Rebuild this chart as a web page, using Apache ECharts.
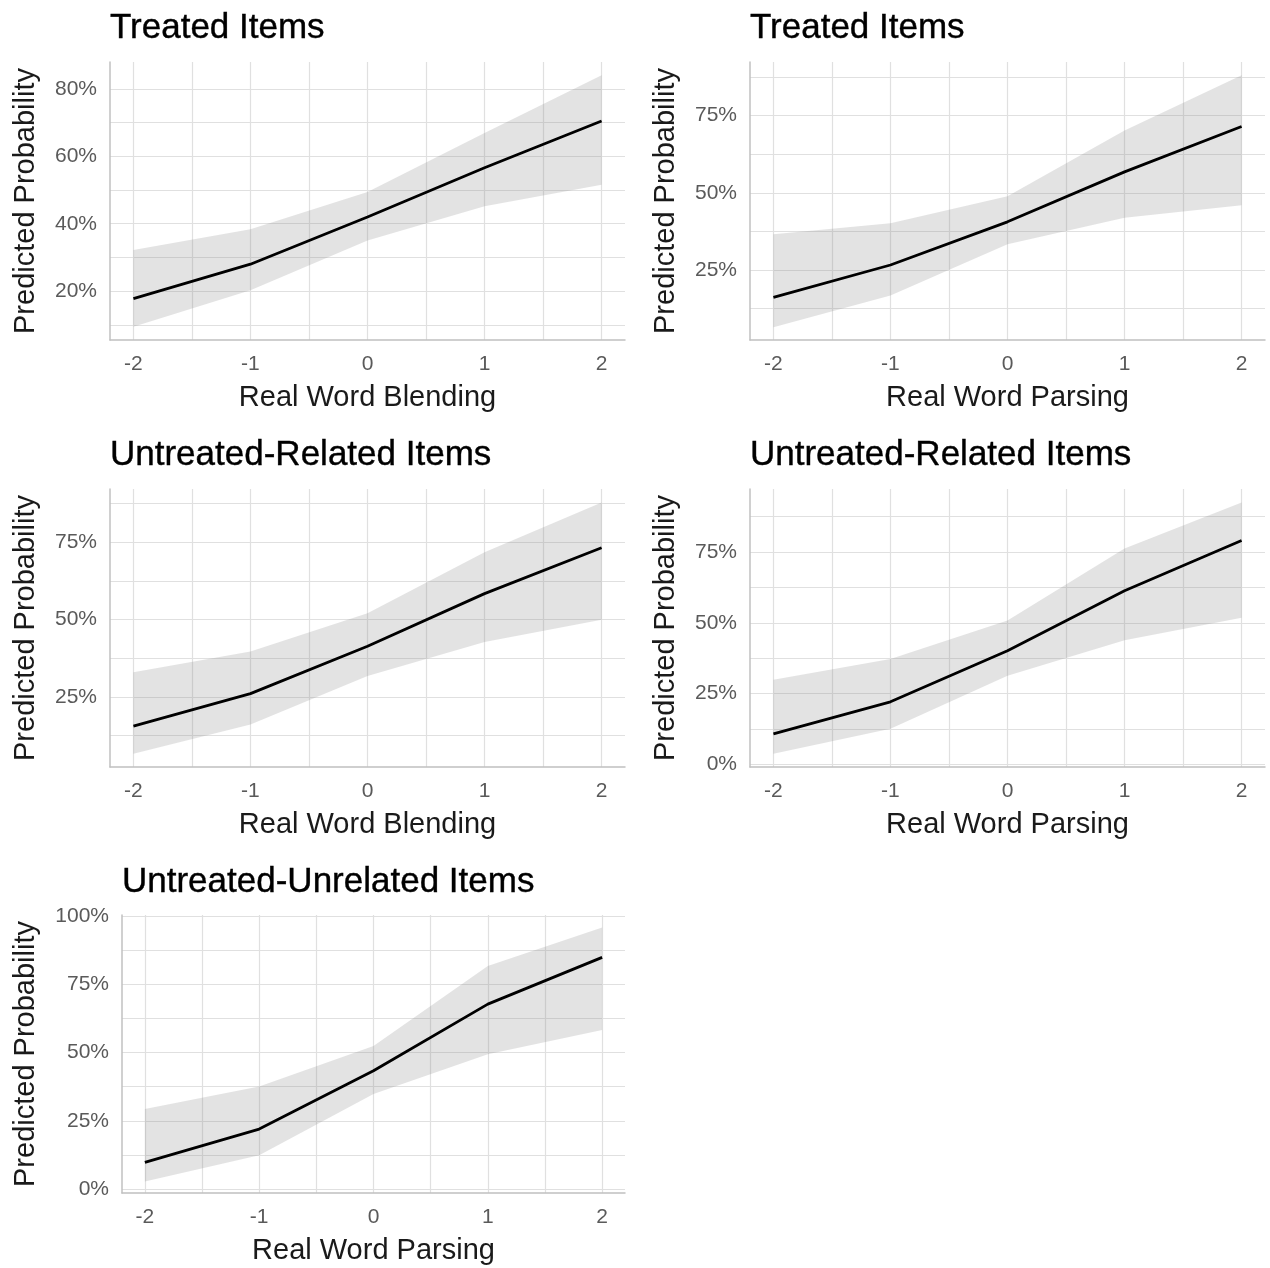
<!DOCTYPE html>
<html>
<head>
<meta charset="utf-8">
<script src="https://cdn.jsdelivr.net/npm/echarts@6/dist/echarts.min.js"></script>
<style>
html,body{margin:0;padding:0;background:#fff;}
#chart{width:1270px;height:1268px;}
</style>
</head>
<body>
<div id="chart"></div>
<script>
// ---------- DATA ----------
const xValues = [-2, -1, 0, 1, 2];
const xTickLabels = [-2, -1, 0, 1, 2];
const xMinorTicks = [-1.5, -0.5, 0.5, 1.5];

const panelTitles = ['Treated Items', 'Treated Items', 'Untreated-Related Items', 'Untreated-Related Items', 'Untreated-Unrelated Items'];
const xAxisNames = ['Real Word Blending', 'Real Word Parsing', 'Real Word Blending', 'Real Word Parsing', 'Real Word Parsing'];
const yAxisName = 'Predicted Probability';

// predicted probability (%) and confidence band (%)
const fitTreatedBlend = [17.8, 28.0, 42.0, 56.6, 70.5];
const lowTreatedBlend = [9.4, 20.3, 35.0, 45.2, 51.6];
const upTreatedBlend = [32.2, 38.4, 49.4, 66.9, 84.1];

const fitTreatedParse = [16.1, 26.6, 40.6, 56.8, 71.5];
const lowTreatedParse = [6.4, 16.7, 33.3, 41.9, 46.0];
const upTreatedParse = [36.6, 40.1, 48.9, 70.2, 88.1];

const fitRelatedBlend = [15.6, 26.1, 41.4, 58.4, 73.2];
const lowRelatedBlend = [6.7, 16.1, 31.8, 42.8, 50.0];
const upRelatedBlend = [33.0, 39.7, 52.1, 71.8, 87.8];

const fitRelatedParse = [10.8, 22.1, 40.1, 61.3, 79.0];
const lowRelatedParse = [3.8, 12.6, 31.3, 43.8, 51.8];
const upRelatedParse = [29.9, 37.2, 50.8, 76.2, 92.4];

const fitUnrelatedParse = [9.8, 22.0, 43.3, 67.7, 84.8];
const lowUnrelatedParse = [2.8, 12.4, 34.8, 49.4, 58.2];
const upUnrelatedParse = [29.3, 37.6, 52.4, 81.6, 95.7];

// y tick labels (%) and minor grid values
const yTicks1 = [20, 40, 60, 80];
const yMinor1 = [10, 30, 50, 70];
const yTicks2 = [25, 50, 75];
const yMinor2 = [12.5, 37.5, 62.5, 87.5];
const yTicks3 = [25, 50, 75];
const yMinor3 = [12.5, 37.5, 62.5, 87.5];
const yTicks4 = [0, 25, 50, 75];
const yMinor4 = [12.5, 37.5, 62.5, 87.5];
const yTicks5 = [0, 25, 50, 75, 100];
const yMinor5 = [12.5, 37.5, 62.5, 87.5];

// ---------- LAYOUT ----------
const panels = [
  {fit: fitTreatedBlend, low: lowTreatedBlend, up: upTreatedBlend, yTicks: yTicks1, yMinor: yMinor1, yMin: 5.5, yMax: 88.0,
   grid: {left: 110, top: 62, width: 515, height: 278}, titleTop: 11, yNameGap: 70},
  {fit: fitTreatedParse, low: lowTreatedParse, up: upTreatedParse, yTicks: yTicks2, yMinor: yMinor2, yMin: 2.3, yMax: 92.4,
   grid: {left: 750, top: 62, width: 515, height: 278}, titleTop: 11, yNameGap: 70},
  {fit: fitRelatedBlend, low: lowRelatedBlend, up: upRelatedBlend, yTicks: yTicks3, yMinor: yMinor3, yMin: 2.4, yMax: 92.2,
   grid: {left: 110, top: 489, width: 515, height: 278}, titleTop: 438, yNameGap: 70},
  {fit: fitRelatedParse, low: lowRelatedParse, up: upRelatedParse, yTicks: yTicks4, yMinor: yMinor4, yMin: -0.9, yMax: 97.2,
   grid: {left: 750, top: 489, width: 515, height: 278}, titleTop: 438, yNameGap: 70},
  {fit: fitUnrelatedParse, low: lowUnrelatedParse, up: upUnrelatedParse, yTicks: yTicks5, yMinor: yMinor5, yMin: -1.4, yMax: 100.3,
   grid: {left: 122, top: 915, width: 503, height: 278}, titleTop: 865, yNameGap: 82}
];

const FONT = "'Liberation Sans', Arial, Helvetica, sans-serif";
const gridColor = '#e0e0e0';
const axisColor = '#c0c0c0';
const tickColor = '#5a5a5a';
const bandColor = 'rgba(140,140,140,0.24)';

const option = {
  backgroundColor: '#ffffff',
  animation: false,
  title: [], grid: [], xAxis: [], yAxis: [], series: []
};

panels.forEach((p, i) => {
  option.title.push({
    text: panelTitles[i], left: p.grid.left, top: p.titleTop, padding: 0,
    textStyle: {fontFamily: FONT, fontSize: 35, fontWeight: 'normal', color: '#000', textBorderColor: '#000', textBorderWidth: 0.4}
  });
  option.grid.push(Object.assign({containLabel: false}, p.grid));
  option.xAxis.push({
    type: 'value', gridIndex: i, min: -2.2, max: 2.2,
    name: xAxisNames[i], nameLocation: 'middle', nameGap: 43,
    nameTextStyle: {fontFamily: FONT, fontSize: 29, color: '#1a1a1a'},
    axisLine: {show: true, onZero: false, lineStyle: {color: axisColor, width: 1.5}},
    axisTick: {show: false, customValues: xTickLabels.concat(xMinorTicks)},
    axisLabel: {customValues: xTickLabels, margin: 14, fontFamily: FONT, fontSize: 21, color: tickColor,
      formatter: v => String(v)},
    splitLine: {show: true, lineStyle: {color: gridColor, width: 1.2}}
  });
  option.yAxis.push({
    type: 'value', gridIndex: i, min: p.yMin, max: p.yMax,
    name: yAxisName, nameLocation: 'middle', nameGap: p.yNameGap, nameRotate: 90,
    nameTextStyle: {fontFamily: FONT, fontSize: 29, color: '#1a1a1a'},
    axisLine: {show: true, onZero: false, lineStyle: {color: axisColor, width: 1.5}},
    axisTick: {show: false, customValues: p.yTicks.concat(p.yMinor)},
    axisLabel: {customValues: p.yTicks, margin: 13, fontFamily: FONT, fontSize: 21, color: tickColor,
      formatter: v => Math.round(v) + '%'},
    splitLine: {show: true, lineStyle: {color: gridColor, width: 1.2}}
  });
  // confidence band drawn as polygon through the axis scales
  const bandData = xValues.map((x, k) => [x, p.low[k], p.up[k]]);
  option.series.push({
    type: 'custom', xAxisIndex: i, yAxisIndex: i, z: 2, silent: true,
    data: bandData,
    encode: {x: 0, y: [1, 2]},
    renderItem: (params, api) => {
      if (params.dataIndex !== 0) return null;
      const upper = bandData.map(d => api.coord([d[0], d[2]]));
      const lower = bandData.map(d => api.coord([d[0], d[1]])).reverse();
      return {type: 'polygon', shape: {points: upper.concat(lower)}, style: {fill: bandColor}};
    }
  });
  option.series.push({
    type: 'line', xAxisIndex: i, yAxisIndex: i, z: 3, silent: true,
    showSymbol: false, symbol: 'none',
    data: xValues.map((x, k) => [x, p.fit[k]]),
    lineStyle: {color: '#000', width: 2.8}
  });
});

const chart = echarts.init(document.getElementById('chart'), null, {renderer: 'canvas'});
chart.setOption(option);
</script>
</body>
</html>
